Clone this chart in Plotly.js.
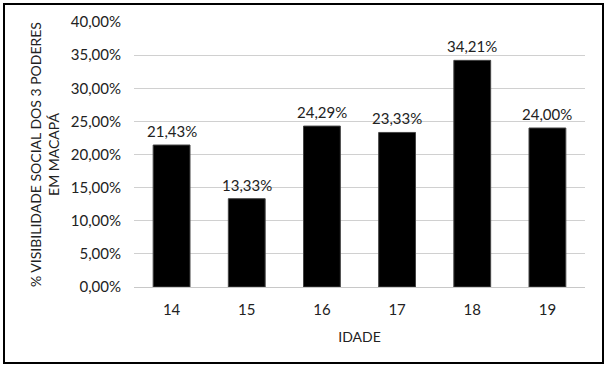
<!DOCTYPE html>
<html>
<head>
<meta charset="utf-8">
<script src="https://cdn.plot.ly/plotly-3.0.1.min.js"></script>
<style>
html,body{margin:0;padding:0;background:#fff;}
#wrap{position:relative;width:607px;height:366px;}
#chart{position:absolute;left:0;top:0;width:607px;height:366px;}
#frame{position:absolute;left:3px;top:3px;width:597px;height:357px;border:2px solid #000;pointer-events:none;}
</style>
</head>
<body>
<div id="wrap"><div id="chart"></div><div id="frame"></div></div>
<script>
const ages = ['14','15','16','17','18','19'];
const values = [21.43, 13.33, 24.29, 23.33, 34.21, 24.00];
const valueLabels = ['21,43%','13,33%','24,29%','23,33%','34,21%','24,00%'];
const yTickVals = [0,5,10,15,20,25,30,35,40];
const yTickText = ['0,00%','5,00%','10,00%','15,00%','20,00%','25,00%','30,00%','35,00%','40,00%'];

const font = 'Lato, "Open Sans", sans-serif';
const annotations = ages.map((a, i) => ({
  x: i, y: values[i], xref: 'x', yref: 'y',
  text: valueLabels[i], showarrow: false,
  yanchor: 'bottom', yshift: 3,
  font: {family: font, size: 15, color: '#222'}
}));
Plotly.newPlot('chart', [{
  type: 'bar',
  x: ages,
  y: values,
  marker: {color: '#000', line: {color: '#444', width: 1}},
  width: 0.49,
  hoverinfo: 'none'
}], {
  width: 607, height: 366,
  margin: {l: 134, r: 22, t: 22, b: 79},
  paper_bgcolor: '#fff', plot_bgcolor: '#fff',
  showlegend: false,
  font: {family: font, size: 15, color: '#222'},
  annotations: annotations,
  xaxis: {
    type: 'category',
    range: [-0.5, ages.length - 0.5],
    tickfont: {family: font, size: 15, color: '#222'},
    ticks: '', showline: false, showgrid: false,
    ticklabelstandoff: 12,
    title: {text: 'IDADE', font: {family: font, size: 14, color: '#222'}, standoff: 15}
  },
  yaxis: {
    range: [0, 40],
    tickvals: yTickVals, ticktext: yTickText,
    tickfont: {family: font, size: 15, color: '#222'},
    gridcolor: '#d0d0d0', gridwidth: 1,
    zeroline: true, zerolinecolor: '#c8c8c8', zerolinewidth: 1,
    ticks: '', showline: false,
    ticklabelstandoff: 12,
    title: {text: '% VISIBILIDADE SOCIAL DOS 3 PODERES<br>EM MACAPÁ', font: {family: font, size: 14, color: '#222'}, standoff: 7}
  },
  bargap: 0.51
}, {staticPlot: true, displayModeBar: false});
</script>
</body>
</html>
